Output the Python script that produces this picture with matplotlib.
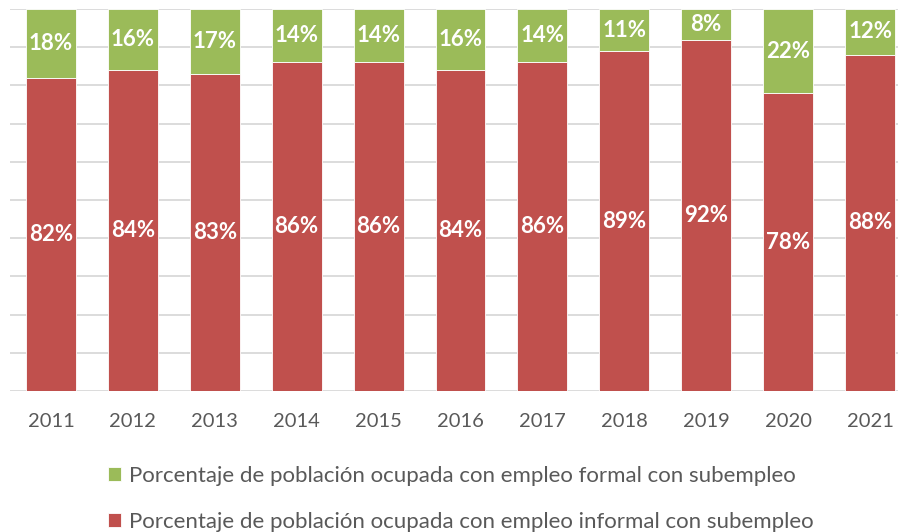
import matplotlib
matplotlib.use('Agg')
import matplotlib.pyplot as plt
import numpy as np

plt.rcParams['font.family'] = ['Lato', 'DejaVu Sans']

years = ['2011', '2012', '2013', '2014', '2015', '2016', '2017', '2018', '2019', '2020', '2021']
informal = [82, 84, 83, 86, 86, 84, 86, 89, 92, 78, 88]
formal = [18, 16, 17, 14, 14, 16, 14, 11, 8, 22, 12]

lbl_formal = 'Porcentaje de población ocupada con empleo formal con subempleo'
lbl_informal = 'Porcentaje de población ocupada con empleo informal con subempleo'

c_red = '#C0504D'
c_green = '#9BBB59'

fig = plt.figure(figsize=(8.98, 5.32), dpi=100)
# the original is cropped on the right, so the axes run past the figure edge
ax = fig.add_axes([10 / 898, 1 - 391 / 532, 901 / 898, 382 / 532])

x = np.arange(len(years))
w = 0.61
b_red = ax.bar(x, informal, w, color=c_red, edgecolor='white', linewidth=0.6, label=lbl_informal, zorder=3)
b_green = ax.bar(x, formal, w, bottom=informal, color=c_green, edgecolor='white', linewidth=0.6,
                 label=lbl_formal, zorder=3)

for i in range(len(years)):
    ax.text(x[i], informal[i] / 2, f'{informal[i]}%', ha='center', va='center',
            color='white', fontsize=16, fontweight='bold', zorder=4)
    ax.text(x[i], informal[i] + formal[i] / 2, f'{formal[i]}%', ha='center', va='center',
            color='white', fontsize=16, fontweight='bold', zorder=4)

ax.set_ylim(0, 100)
ax.set_xlim(-0.5, len(years) - 0.5)
ax.set_yticks(np.arange(0, 101, 10))
ax.set_yticklabels([])
ax.tick_params(axis='y', length=0)
ax.tick_params(axis='x', length=0, pad=16, labelsize=14.5, labelcolor='#595959')
ax.set_xticks(x)
ax.set_xticklabels(years)
ax.grid(axis='y', color='#D9D9D9', linewidth=1.3, zorder=0)
for s in ax.spines.values():
    s.set_visible(False)

fig.legend([b_green, b_red], [lbl_formal, lbl_informal],
           loc='lower left', bbox_to_anchor=(0.098, -0.037), frameon=False, fontsize=16,
           labelcolor='#595959', handlelength=0.6, handleheight=0.6, handletextpad=0.35,
           labelspacing=1.15)

fig.savefig('out.png', dpi=100)
